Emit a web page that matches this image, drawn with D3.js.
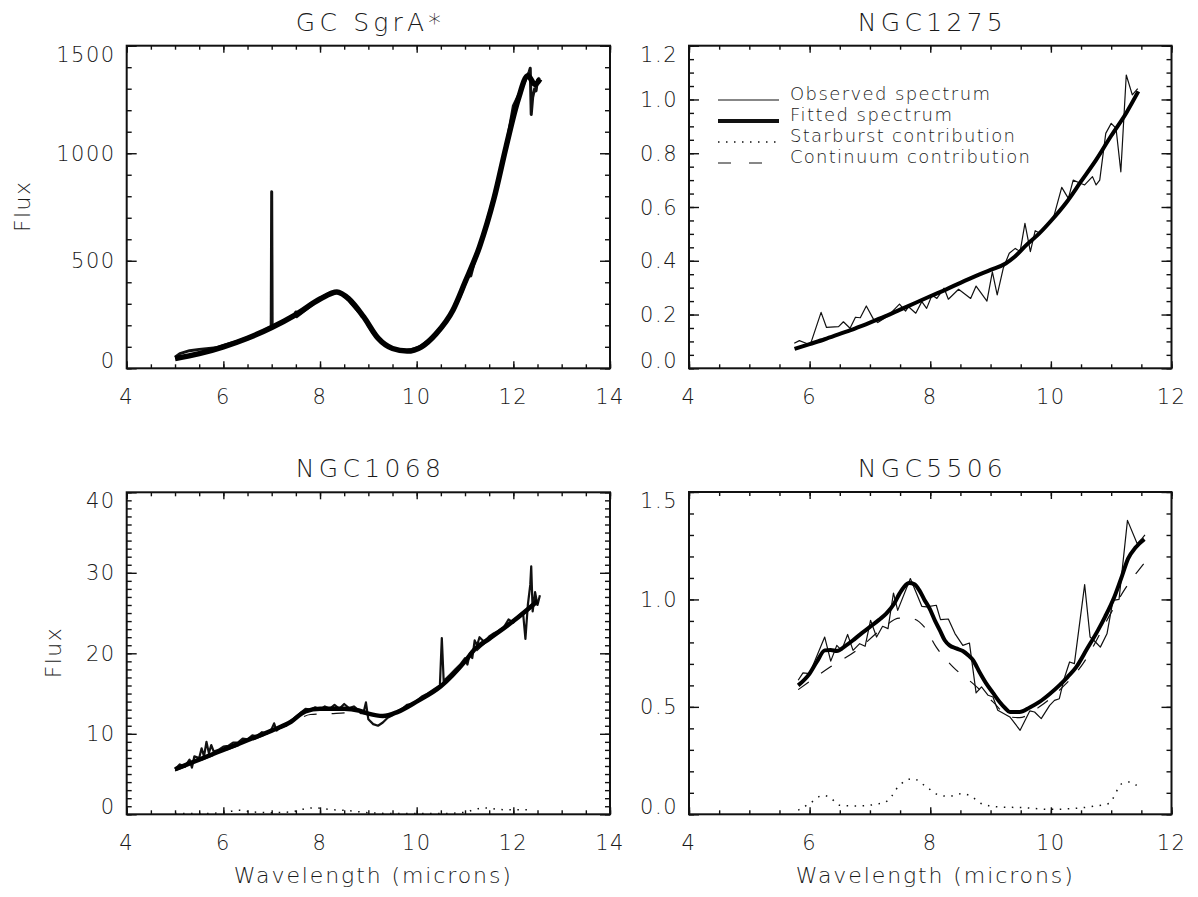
<!DOCTYPE html>
<html lang="en">
<head>
<meta charset="UTF-8">
<title>spectra</title>
<script src="https://d3js.org/d3.v7.min.js"></script>
<style>
  body { margin: 0; background: #fff; }
  text { font-family: "DejaVu Sans", sans-serif; font-weight: 200; fill: #1a1a1a; }
</style>
</head>
<body>
<div id="chart"></div>
<script>
// ---- GC SgrA* ----
const sgraObserved = [[5.0,52],[5.1,68],[5.3,82],[5.5,88],[5.7,92],[5.85,95],[6.0,106],[6.25,122],[6.5,142],[6.75,165],
  [6.95,190],[6.99,192],[7.0,821],[7.01,195],[7.25,218],[7.45,240],[7.5,262],[7.52,240],[7.75,280],[8.0,325],
  [8.2,350],[8.35,356],[8.5,342],[8.65,300],[8.8,262],[8.9,240],[9.0,200],[9.1,163],[9.25,128],[9.38,105],
  [9.5,92],[9.65,85],[9.76,82],[9.9,88],[10.07,100],[10.25,130],[10.41,163],[10.6,215],[10.76,271],[10.9,335],
  [11.03,410],[11.1,440],[11.12,430],[11.2,500],[11.31,565],[11.45,680],[11.58,783],[11.71,899],[11.85,1030],
  [12.0,1220],[12.15,1290],[12.25,1340],[12.33,1380],[12.35,1395],[12.37,1180],[12.4,1260],[12.44,1300],
  [12.47,1290],[12.5,1340],[12.55,1350]];
const sgraFitted = [[5.0,45],[5.5,68],[6.0,100],[6.5,140],[7.0,190],[7.5,250],[8.0,322],[8.35,355],[8.6,322],
  [8.9,240],[9.2,140],[9.5,92],[9.8,80],[10.1,100],[10.4,160],[10.75,270],[11.0,400],[11.3,565],[11.6,790],
  [11.85,1030],[12.1,1250],[12.3,1360],[12.45,1320],[12.55,1345]];

// ---- NGC1275 ----
const n1275Observed = [[5.745,0.093],[5.83,0.103],[5.92,0.095],[6.01,0.087],[6.19,0.208],[6.28,0.152],[6.48,0.155],
  [6.56,0.173],[6.67,0.149],[6.76,0.19],[6.84,0.188],[6.94,0.232],[7.06,0.182],[7.13,0.170],[7.3,0.195],
  [7.49,0.239],[7.59,0.213],[7.64,0.229],[7.76,0.205],[7.86,0.248],[7.94,0.223],[8.03,0.273],[8.11,0.260],
  [8.23,0.298],[8.30,0.257],[8.47,0.294],[8.67,0.260],[8.76,0.306],[8.94,0.250],[9.03,0.359],[9.11,0.273],
  [9.21,0.372],[9.31,0.428],[9.41,0.446],[9.49,0.434],[9.57,0.539],[9.66,0.434],[9.74,0.512],[9.82,0.502],
  [9.93,0.53],[10.04,0.558],[10.18,0.673],[10.29,0.632],[10.37,0.70],[10.47,0.69],[10.56,0.682],[10.69,0.713],
  [10.75,0.682],[10.81,0.70],[10.91,0.874],[11.00,0.911],[11.08,0.893],[11.16,0.731],[11.25,1.091],
  [11.35,1.017],[11.44,1.04]];
const n1275Fitted = [[5.75,0.072],[6.0,0.09],[6.25,0.108],[6.5,0.128],[6.75,0.148],[7.0,0.17],[7.25,0.193],
  [7.5,0.218],[7.75,0.243],[8.0,0.268],[8.25,0.292],[8.5,0.318],[8.75,0.343],[9.0,0.366],[9.25,0.39],
  [9.4,0.415],[9.6,0.46],[9.8,0.5],[10.0,0.548],[10.25,0.615],[10.5,0.695],[10.75,0.775],[11.0,0.865],
  [11.25,0.95],[11.45,1.03]];

// ---- NGC1068 ----
const n1068Observed = [[5.0,5.6],[5.1,6.2],[5.2,5.9],[5.3,6.8],[5.35,5.8],[5.4,7.2],[5.5,7.0],[5.55,8.2],[5.6,7.2],
  [5.65,9.0],[5.7,7.6],[5.75,8.6],[5.8,7.8],[5.9,8.0],[6.0,8.4],[6.1,8.5],[6.2,8.9],[6.3,8.9],[6.4,9.4],[6.5,9.3],
  [6.6,9.8],[6.7,9.7],[6.8,10.2],[6.9,10.0],[7.0,10.6],[7.05,11.3],[7.1,10.4],[7.2,10.9],[7.3,11.0],[7.4,11.6],
  [7.5,12.1],[7.6,12.6],[7.7,13.1],[7.8,13.0],[7.9,13.3],[8.0,13.0],[8.1,13.4],[8.2,13.1],[8.3,13.6],[8.4,13.1],
  [8.5,13.7],[8.6,13.2],[8.7,13.4],[8.8,12.9],[8.9,12.6],[8.95,13.9],[9.0,11.8],[9.1,11.2],[9.2,11.0],[9.3,11.4],
  [9.4,12.0],[9.5,12.3],[9.6,12.8],[9.7,13.1],[9.8,13.6],[9.9,13.7],[10.0,14.1],[10.1,14.6],[10.2,14.9],
  [10.3,15.3],[10.4,15.7],[10.48,16.0],[10.52,21.9],[10.56,16.4],[10.6,16.8],[10.7,17.4],[10.8,18.0],
  [10.9,18.6],[11.0,19.4],[11.05,18.6],[11.1,20.0],[11.15,19.4],[11.2,21.6],[11.25,21.0],[11.3,22.0],
  [11.4,21.4],[11.5,22.1],[11.6,22.5],[11.7,22.8],[11.8,23.2],[11.9,24.2],[12.0,23.8],[12.1,24.6],[12.2,25.1],
  [12.25,21.8],[12.3,26.0],[12.35,28.5],[12.37,30.8],[12.4,25.2],[12.45,27.6],[12.5,26.0],[12.55,27.2]];
const n1068Fitted = [[5.0,5.6],[5.5,6.8],[6.0,8.0],[6.5,9.2],[7.0,10.4],[7.4,11.5],[7.7,12.8],[8.0,13.1],
  [8.5,13.1],[8.8,12.9],[9.0,12.5],[9.3,12.2],[9.6,12.7],[10.0,14.0],[10.5,15.9],[11.0,19.0],[11.2,20.5],
  [11.5,21.8],[12.0,24.0],[12.5,26.5]];
const n1068Starburst = [[5.0,0.1],[5.5,0.1],[6.0,0.2],[6.3,0.5],[6.6,0.3],[7.0,0.2],[7.4,0.3],[7.7,0.7],[7.9,0.8],
  [8.2,0.6],[8.6,0.45],[9.0,0.2],[9.5,0.1],[10.0,0.1],[10.5,0.1],[11.0,0.25],[11.2,0.6],[11.4,0.8],[11.7,0.6],
  [12.0,0.55],[12.3,0.55]];
const n1068Continuum = [[5.0,5.4],[6.0,7.8],[7.0,10.2],[7.5,11.6],[7.8,12.4],[8.2,12.5],[8.6,12.6],[9.0,12.4],
  [9.3,12.1],[9.6,12.6],[10.0,14.0],[10.5,15.8],[11.0,18.9],[11.5,21.7],[12.0,23.9],[12.5,26.3]];

// ---- NGC5506 ----
const n5506Observed = [[5.81,0.624],[5.89,0.658],[6.0,0.655],[6.25,0.825],[6.35,0.713],[6.45,0.786],[6.53,0.763],
  [6.63,0.837],[6.72,0.763],[6.83,0.794],[6.92,0.782],[7.01,0.903],[7.11,0.825],[7.21,0.875],[7.30,0.864],
  [7.39,1.03],[7.46,0.949],[7.67,1.097],[7.86,0.968],[7.94,0.965],[8.10,0.973],[8.17,0.906],[8.30,0.909],
  [8.41,0.841],[8.54,0.786],[8.65,0.797],[8.76,0.565],[8.85,0.593],[8.96,0.554],[9.04,0.546],[9.12,0.484],
  [9.32,0.453],[9.49,0.391],[9.65,0.481],[9.73,0.476],[9.84,0.445],[9.98,0.507],[10.06,0.53],[10.14,0.538],
  [10.22,0.631],[10.31,0.709],[10.39,0.701],[10.56,1.069],[10.65,0.825],[10.74,0.802],[10.82,0.778],
  [10.93,0.84],[11.03,0.996],[11.13,1.0],[11.27,1.368],[11.43,1.26],[11.5,1.28],[11.56,1.30]];
const n5506Fitted = [[5.81,0.60],[6.0,0.655],[6.12,0.71],[6.25,0.763],[6.35,0.765],[6.45,0.76],[6.6,0.785],
  [6.72,0.81],[6.85,0.84],[7.0,0.872],[7.15,0.905],[7.27,0.934],[7.4,0.98],[7.49,1.027],[7.57,1.06],
  [7.65,1.076],[7.74,1.07],[7.82,1.042],[7.9,1.0],[7.99,0.957],[8.08,0.9],[8.16,0.856],[8.24,0.81],
  [8.32,0.786],[8.43,0.772],[8.54,0.76],[8.63,0.74],[8.71,0.717],[8.82,0.66],[8.93,0.608],[9.04,0.565],
  [9.15,0.523],[9.24,0.495],[9.32,0.476],[9.48,0.476],[9.65,0.497],[9.81,0.523],[9.98,0.56],[10.14,0.60],
  [10.28,0.64],[10.42,0.685],[10.6,0.77],[10.78,0.856],[10.9,0.92],[11.05,1.01],[11.18,1.11],[11.28,1.19],
  [11.4,1.24],[11.55,1.28]];
const n5506Starburst = [[5.81,0.019],[6.0,0.05],[6.22,0.088],[6.33,0.08],[6.5,0.042],[6.78,0.039],[7.17,0.05],
  [7.30,0.065],[7.49,0.135],[7.71,0.166],[7.94,0.127],[8.16,0.088],[8.32,0.084],[8.52,0.096],[8.65,0.088],
  [8.87,0.047],[9.15,0.034],[9.53,0.031],[9.98,0.023],[10.37,0.027],[10.70,0.037],[10.96,0.05],[11.18,0.143],
  [11.30,0.15],[11.5,0.115]];
const n5506Continuum = [[5.81,0.58],[6.34,0.685],[6.78,0.763],[7.17,0.856],[7.49,0.913],[7.71,0.91],[7.90,0.872],
  [8.10,0.778],[8.38,0.685],[8.71,0.608],[9.04,0.523],[9.32,0.453],[9.48,0.45],[9.81,0.50],[10.14,0.577],
  [10.53,0.70],[10.99,0.934],[11.18,1.027],[11.55,1.17]];

const legendLabels = ["Observed spectrum", "Fitted spectrum", "Starburst contribution", "Continuum contribution"];

// the dense spectra (SgrA*, NGC1068) show up as a thick noisy band, so they get wider strokes
const panels = [
  { title: "GC SgrA*", left: 126.7, right: 610, top: 45.7, bottom: 368.3, xDomain: [4, 14], yDomain: [0, 1500],
    yMajor: 500, yMinor: 100, yDec: 0, obs: sgraObserved, fit: sgraFitted, obsWidth: 3, fitWidth: 5.5,
    fluxX: 22, wave: false, legend: false },
  { title: "NGC1275", left: 689, right: 1171.5, top: 45.7, bottom: 368.3, xDomain: [4, 12], yDomain: [0, 1.2],
    yMajor: 0.2, yMinor: 0.05, yDec: 1, obs: n1275Observed, fit: n1275Fitted, obsWidth: 1.2, fitWidth: 4,
    fluxX: null, wave: false, legend: true },
  { title: "NGC1068", left: 126.7, right: 610, top: 492.3, bottom: 814.3, xDomain: [4, 14], yDomain: [0, 40],
    yMajor: 10, yMinor: 1, yDec: 0, obs: n1068Observed, fit: n1068Fitted, sb: n1068Starburst,
    cont: n1068Continuum, obsWidth: 2.2, fitWidth: 4.5, fluxX: 53, wave: true, legend: false },
  { title: "NGC5506", left: 689, right: 1171.5, top: 492, bottom: 814.3, xDomain: [4, 12], yDomain: [0, 1.5],
    yMajor: 0.5, yMinor: 0.1, yDec: 1, obs: n5506Observed, fit: n5506Fitted, sb: n5506Starburst,
    cont: n5506Continuum, obsWidth: 1.2, fitWidth: 4, fluxX: null, wave: true, legend: false }
];

const svg = d3.select("#chart").append("svg")
  .attr("width", 1198).attr("height", 897);

function steps(a, b, s) {
  const n = Math.round((b - a) / s);
  return d3.range(n + 1).map(i => +(a + i * s).toFixed(4));
}

panels.forEach(function (p) {
  const x = d3.scaleLinear().domain(p.xDomain).range([p.left, p.right]);
  const y = d3.scaleLinear().domain(p.yDomain).range([p.bottom, p.top]);
  const g = svg.append("g");
  const w = p.right - p.left, h = p.bottom - p.top;

  const xMaj = steps(p.xDomain[0], p.xDomain[1], 2);
  const xMin = steps(p.xDomain[0], p.xDomain[1], 0.5);
  const yMaj = steps(p.yDomain[0], p.yDomain[1], p.yMajor);
  const yMin = steps(p.yDomain[0], p.yDomain[1], p.yMinor);

  // ticks on all four sides, pointing inward
  const tickSets = [
    [d3.axisBottom(x).tickValues(xMin).tickSize(-4), p.bottom, "y"],
    [d3.axisBottom(x).tickValues(xMaj).tickSize(-7), p.bottom, "y"],
    [d3.axisTop(x).tickValues(xMin).tickSize(-4), p.top, "y"],
    [d3.axisTop(x).tickValues(xMaj).tickSize(-7), p.top, "y"],
    [d3.axisLeft(y).tickValues(yMin).tickSize(-5), p.left, "x"],
    [d3.axisLeft(y).tickValues(yMaj).tickSize(-10), p.left, "x"],
    [d3.axisRight(y).tickValues(yMin).tickSize(-5), p.right, "x"],
    [d3.axisRight(y).tickValues(yMaj).tickSize(-10), p.right, "x"]
  ];
  tickSets.forEach(function (t) {
    const a = g.append("g")
      .attr("transform", t[2] === "y" ? "translate(0," + t[1] + ")" : "translate(" + t[1] + ",0)")
      .call(t[0].tickFormat(""));
    a.select(".domain").remove();
    a.selectAll("line").attr("stroke", "#111").attr("stroke-width", 1.4);
  });

  g.append("rect")
    .attr("x", p.left).attr("y", p.top).attr("width", w).attr("height", h)
    .attr("fill", "none").attr("stroke", "#111").attr("stroke-width", 2);

  // tick labels; the end labels are kept inside the frame height like IDL does
  g.selectAll(".xl").data(xMaj).enter().append("text")
    .attr("x", d => x(d)).attr("y", p.bottom + 28).attr("dy", "0.36em")
    .attr("text-anchor", "middle").style("font-size", "21px").style("letter-spacing", "1.5px")
    .text(d => d);
  g.selectAll(".yl").data(yMaj).enter().append("text")
    .attr("x", p.left - 11)
    .attr("y", d => Math.max(p.top + 8.5, Math.min(p.bottom - 7.5, y(d))))
    .attr("dy", "0.36em").attr("text-anchor", "end")
    .style("font-size", "21px").style("letter-spacing", "1.5px")
    .text(d => d.toFixed(p.yDec));

  // titles
  g.append("text").attr("x", (p.left + p.right) / 2).attr("y", p.top - 24).attr("dy", "0.36em")
    .attr("text-anchor", "middle").style("font-size", "25px")
    .attr("textLength", 145).attr("lengthAdjust", "spacing").text(p.title);
  if (p.fluxX !== null) {
    g.append("text")
      .attr("transform", "translate(" + p.fluxX + "," + (p.top + h / 2) + ") rotate(-90)")
      .attr("dy", "0.36em").attr("text-anchor", "middle").style("font-size", "22px")
      .attr("textLength", 50).attr("lengthAdjust", "spacing").text("Flux");
  }
  if (p.wave) {
    g.append("text").attr("x", (p.left + p.right) / 2 + 4).attr("y", p.bottom + 61).attr("dy", "0.36em")
      .attr("text-anchor", "middle").style("font-size", "22px")
      .attr("textLength", 277).attr("lengthAdjust", "spacing").text("Wavelength (microns)");
  }

  const straight = d3.line().x(d => x(d[0])).y(d => y(d[1]));
  const smooth = d3.line().x(d => x(d[0])).y(d => y(d[1])).curve(d3.curveMonotoneX);

  g.append("path").datum(p.obs).attr("d", straight)
    .attr("fill", "none").attr("stroke", "#111").attr("stroke-width", p.obsWidth).attr("stroke-linejoin", "round");
  if (p.cont) {
    g.append("path").datum(p.cont).attr("d", smooth)
      .attr("fill", "none").attr("stroke", "#111").attr("stroke-width", 1.2).attr("stroke-dasharray", "13,15");
  }
  if (p.sb) {
    g.append("path").datum(p.sb).attr("d", smooth)
      .attr("fill", "none").attr("stroke", "#111").attr("stroke-width", 1.5).attr("stroke-dasharray", "1.5,6.5");
  }
  g.append("path").datum(p.fit).attr("d", smooth)
    .attr("fill", "none").attr("stroke", "#000").attr("stroke-width", p.fitWidth).attr("stroke-linejoin", "round");

  if (p.legend) {
    const styles = [[1.2, null], [4, null], [1.5, "1.5,6.5"], [1.2, "13,18"]];
    const widths = [200, 162, 225, 240];
    const rowY = [100, 121, 142, 163];
    legendLabels.forEach(function (lab, i) {
      g.append("line").attr("x1", 718).attr("x2", 779).attr("y1", rowY[i]).attr("y2", rowY[i])
        .attr("stroke", "#111").attr("stroke-width", styles[i][0])
        .attr("stroke-dasharray", styles[i][1]);
      g.append("text").attr("x", 790).attr("y", rowY[i]).style("font-size", "18px")
        .attr("textLength", widths[i]).attr("lengthAdjust", "spacing").text(lab);
    });
  }
});
</script>
</body>
</html>
